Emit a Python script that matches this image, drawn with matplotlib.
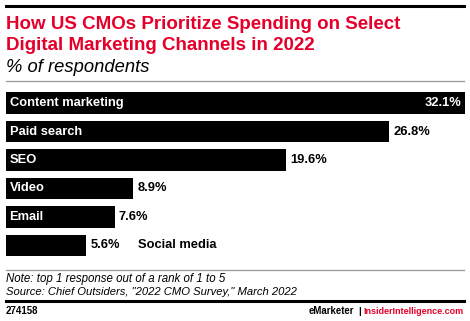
import matplotlib.pyplot as plt
from matplotlib.lines import Line2D

# Data
channels = ["Content marketing", "Paid search", "SEO", "Video", "Email", "Social media"]
shares = [32.1, 26.8, 19.6, 8.9, 7.6, 5.6]

plt.rcParams['font.family'] = ['Liberation Sans', 'DejaVu Sans']

W, H = 470, 321
fig = plt.figure(figsize=(W / 100, H / 100), dpi=100)
red = '#e4002b'


def fy(px):
    return 1 - px / H


def fx(px):
    return px / W


# top rule
fig.add_artist(Line2D([fx(6), fx(464)], [fy(6), fy(6)], color='black', lw=2.2))

# titles
fig.text(fx(6), fy(29), "How US CMOs Prioritize Spending on Select", color=red,
         fontsize=13.5, fontweight='bold', va='baseline')
fig.text(fx(6), fy(50), "Digital Marketing Channels in 2022", color=red,
         fontsize=13.5, fontweight='bold', va='baseline')
fig.text(fx(6), fy(72), "% of respondents", color='black', fontsize=13.2,
         fontstyle='italic', va='baseline')
fig.add_artist(Line2D([fx(6), fx(464)], [fy(80.5), fy(80.5)], color='#999999', lw=0.9))

# bars
pitch = 28.45
top = 103.1 - 0.5 * pitch
bottom = top + 6 * pitch
ax = fig.add_axes([fx(6), fy(bottom), fx(465) - fx(6), (bottom - top) / H])
ypos = list(range(len(channels)))
ax.barh(ypos, shares, height=21.5 / pitch, color='black')
ax.set_xlim(0, shares[0])
ax.set_ylim(len(channels) - 0.5, -0.5)
ax.axis('off')

for i, (name, val) in enumerate(zip(channels, shares)):
    if i == 0:
        ax.text(val - 0.25, i, f"{val}%", color='white', fontsize=9.3,
                fontweight='bold', va='center', ha='right')
    else:
        ax.text(val + 0.3, i, f"{val}%", color='black', fontsize=9.3,
                fontweight='bold', va='center', ha='left')
    if i < len(channels) - 1:
        ax.text(0.25, i, name, color='white', fontsize=9.3, fontweight='bold',
                va='center', ha='left')
    else:
        ax.text(val + 3.6, i, name, color='black', fontsize=9.3, fontweight='bold',
                va='center', ha='left')

# footer
fig.add_artist(Line2D([fx(6), fx(464)], [fy(269.5), fy(269.5)], color='#999999', lw=0.9))
fig.text(fx(6), fy(282), "Note: top 1 response out of a rank of 1 to 5", fontsize=8.3,
         fontstyle='italic', va='baseline')
fig.text(fx(6), fy(295), 'Source: Chief Outsiders, "2022 CMO Survey," March 2022', fontsize=8.1,
         fontstyle='italic', va='baseline')
fig.add_artist(Line2D([fx(6), fx(464)], [fy(301), fy(301)], color='black', lw=2.2))
fig.text(fx(6), fy(314), "274158", fontsize=7, fontweight='bold', va='baseline')
fig.text(fx(464), fy(314), "InsiderIntelligence.com", fontsize=6.5, fontweight='bold',
         color=red, ha='right', va='baseline')
fig.text(fx(360), fy(314), "|", fontsize=6.8, fontweight='bold',
         color='black', ha='center', va='baseline')
fig.text(fx(354), fy(314), "eMarketer", fontsize=6.9, fontweight='bold',
         color='black', ha='right', va='baseline')

fig.savefig('out.png', dpi=100)
